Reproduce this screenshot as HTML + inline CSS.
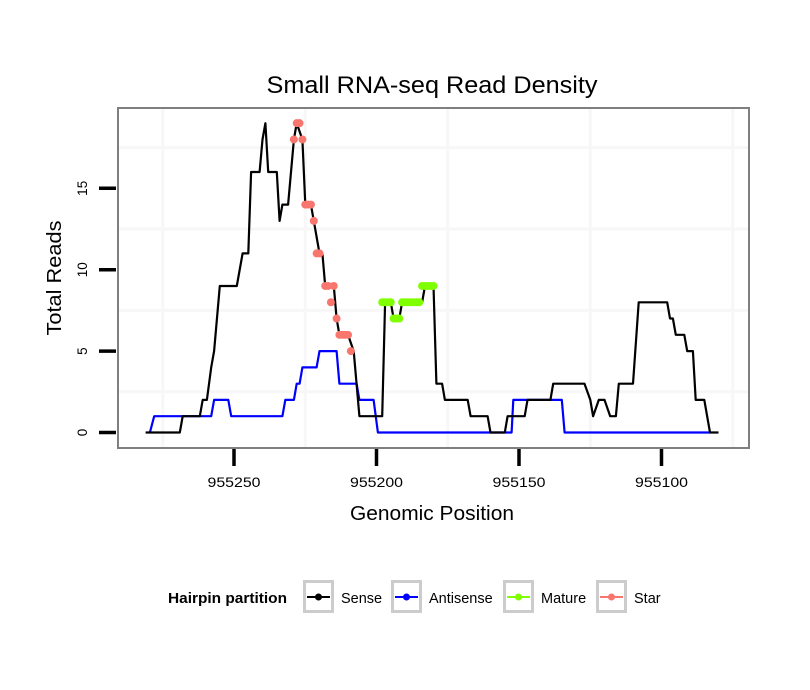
<!DOCTYPE html>
<html><head><meta charset="utf-8"><style>
body{margin:0;background:#fff;}
svg{display:block;font-family:"Liberation Sans",sans-serif;}
</style></head><body>
<svg id="chart" width="810" height="690" viewBox="0 0 810 690">
<rect x="0" y="0" width="810" height="690" fill="#fff"/>
<text x="432" y="93" font-size="24" text-anchor="middle" textLength="331" lengthAdjust="spacingAndGlyphs">Small RNA-seq Read Density</text>
<g id="grid"></g>
<g id="series"></g>
<rect x="118" y="108" width="631" height="340" fill="none" stroke="#7f7f7f" stroke-width="2"/>
<g id="axes"></g>
<text x="432" y="520" font-size="20.5" text-anchor="middle" textLength="164" lengthAdjust="spacingAndGlyphs">Genomic Position</text>
<text transform="translate(61,278) rotate(-90)" font-size="20.5" text-anchor="middle" textLength="115" lengthAdjust="spacingAndGlyphs">Total Reads</text>
<g id="legend"></g>
</svg>
<script>
const sensePos=[955281,955269,955268,955262,955261,955259.5,955258,955257,955255,955249,955247,955245,955244,955241,955240,955239,955238,955235,955234,955233,955231,955229,955228,955226,955225,955223,955222,955220,955219,955218,955215,955214,955213,955210,955208,955206,955198,955197,955195,955194,955192,955191,955184,955183,955180,955179,955177,955176,955168,955167,955161,955160,955155,955154,955148,955147,955139,955138,955127,955125,955124,955122,955120,955118,955116,955115,955110,955108,955098,955097,955096,955095,955092,955091,955089,955088,955085,955083,955080];
const senseVal=[0,0,1,1,2,2,4,5,9,9,11,11,16,16,18,19,16,16,13,14,14,18,19,18,14,14,13,11,11,9,9,7,6,6,5,1,1,8,8,7,7,8,8,9,9,3,3,2,2,1,1,0,0,1,1,2,2,3,3,2,1,2,2,1,1,3,3,8,8,7,7,6,6,5,5,2,2,0,0];
const antiPos=[955279.5,955278,955258,955257,955252,955251,955233,955232,955229,955228,955227,955226,955221,955220,955214,955213,955207,955206,955201,955199.5,955152.6,955152,955135,955134,955083];
const antiVal=[0,1,1,2,2,1,1,2,2,3,3,4,4,5,5,3,3,2,2,0,0,2,2,0,0];
const starPos=[955229,955228,955227,955226,955225,955224,955223,955222,955221,955220,955218,955217,955216,955215,955214,955213,955212,955211,955210,955209];
const starVal=[18,19,19,18,14,14,14,13,11,11,9,9,8,9,7,6,6,6,6,5];
const maturePos=[955198,955197,955196,955195,955194,955193,955192,955191,955190,955189,955188,955187,955186,955185,955184,955183,955182,955181,955180];
const matureVal=[8,8,8,8,7,7,7,8,8,8,8,8,8,8,9,9,9,9,9];
const xTicks=[955250,955200,955150,955100];
const yTicks=[0,5,10,15];
const xMinor=[955275,955225,955175,955125,955075];
const yMinor=[2.5,7.5,12.5,17.5];

const NS='http://www.w3.org/2000/svg';
function xs(p){return 234+(955250-p)*2.85;}
function ys(v){return 432.5-v*16.28;}
function mk(t,a,parent){const e=document.createElementNS(NS,t);for(const k in a)e.setAttribute(k,a[k]);parent.appendChild(e);return e;}
const grid=document.getElementById('grid'),series=document.getElementById('series'),axes=document.getElementById('axes'),legend=document.getElementById('legend');

xMinor.forEach(p=>{const l=mk('line',{x1:xs(p),x2:xs(p),y1:109,y2:447,stroke:'#f7f7f7','stroke-width':3},grid);

});
yMinor.forEach(v=>{const l=mk('line',{x1:119,x2:748,y1:ys(v),y2:ys(v),stroke:'#f7f7f7','stroke-width':3},grid);

});

function line(pos,val,color,name){
  const pts=pos.map((p,i)=>xs(p).toFixed(1)+','+ys(val[i]).toFixed(1)).join(' ');
  const e=mk('polyline',{points:pts,fill:'none',stroke:color,'stroke-width':2.2,'stroke-linejoin':'round'},series);
  
  
}
line(antiPos,antiVal,'#0000ff','antisense-line');
line(sensePos,senseVal,'#000000','sense-line');
function dots(pos,val,color,name){
  pos.forEach((p,i)=>{const c=mk('circle',{cx:xs(p),cy:ys(val[i]),r:4,fill:color},series);
  
  });
}
dots(maturePos,matureVal,'#7fff00','mature-point');
dots(starPos,starVal,'#f8766d','star-point');

yTicks.forEach(v=>{
  const t=mk('line',{x1:99,x2:116,y1:ys(v),y2:ys(v),stroke:'#000','stroke-width':3.5},axes);
  
  
  const tx=mk('text',{transform:'translate(87,'+ys(v)+') rotate(-90)','font-size':13.5,'text-anchor':'middle'},axes);
  tx.textContent=v;
  
  
});
xTicks.forEach(p=>{
  const t=mk('line',{x1:xs(p),x2:xs(p),y1:449,y2:466,stroke:'#000','stroke-width':3.5},axes);
  
  
  const tx=mk('text',{x:xs(p),y:487,'font-size':14,'text-anchor':'middle',textLength:53,lengthAdjust:'spacingAndGlyphs'},axes);
  tx.textContent=p;
  
  
});

const lt=mk('text',{x:168,y:603,'font-size':15,'font-weight':'bold',textLength:119,lengthAdjust:'spacingAndGlyphs'},legend);
lt.textContent='Hairpin partition';


const entries=[['Sense','#000000',303],['Antisense','#0000ff',391],['Mature','#7fff00',503],['Star','#f8766d',596]];
entries.forEach(([lab,col,x])=>{
  const g=mk('g',{},legend);
  
  
  mk('rect',{x:x+1.5,y:581.5,width:28,height:30,fill:'#fff',stroke:'#cccccc','stroke-width':3},g);
  mk('line',{x1:x+4,x2:x+27,y1:597,y2:597,stroke:col,'stroke-width':2},g);
  mk('circle',{cx:x+15.5,cy:597,r:3.5,fill:col},g);
  const t=mk('text',{x:x+38,y:603,'font-size':14.5},g);
  t.textContent=lab;
});
</script>
</body></html>
